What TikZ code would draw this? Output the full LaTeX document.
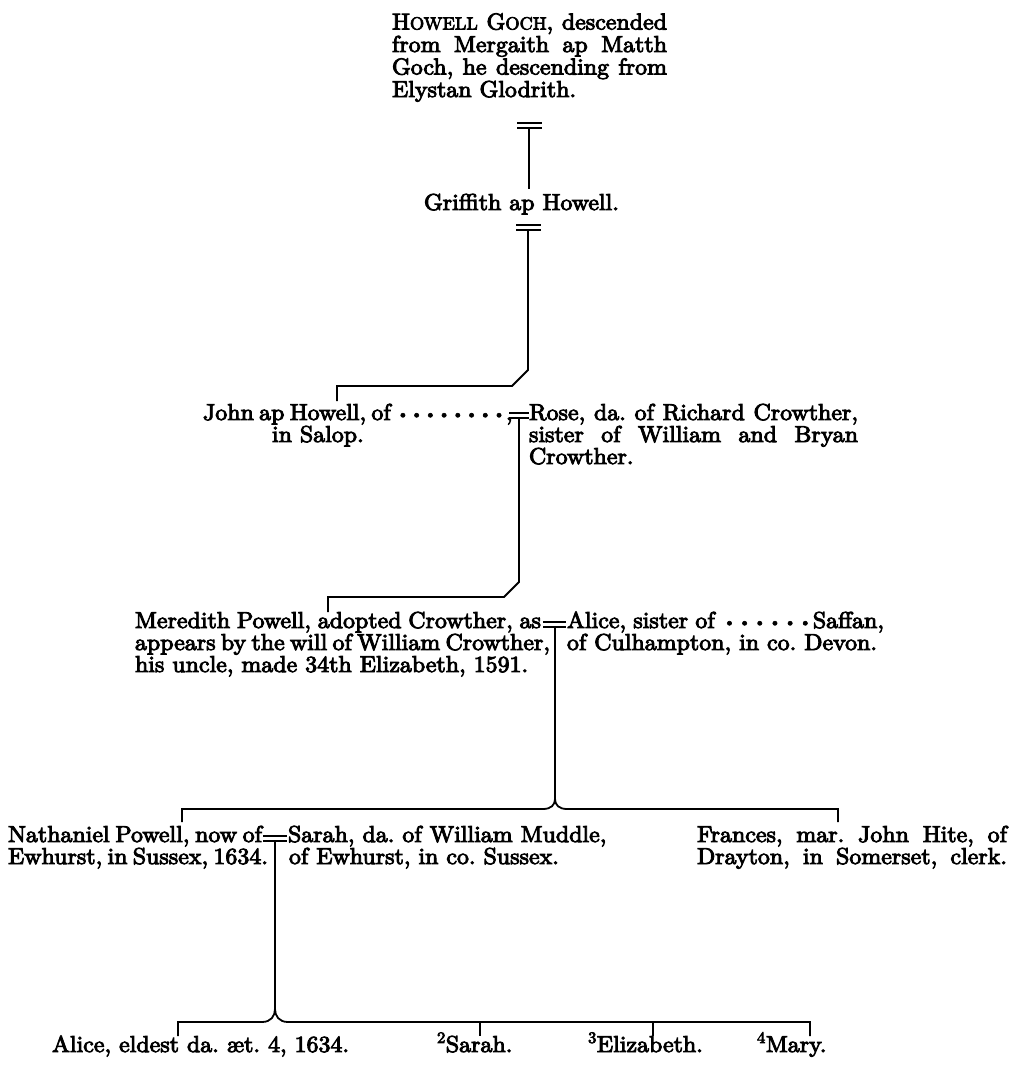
\documentclass[tikz,border=0pt]{standalone}
\usepackage{fontspec}
\newfontfamily\gfont{lmroman10-regular.otf}[FakeBold=4, FakeStretch=1.04]
\newcommand{\md}{\hskip 2pt plus 1.5pt minus 1pt\raisebox{1.4pt}{\fontsize{14.5}{14.5}\selectfont\textbullet}\hskip 2pt plus 1.5pt minus 1pt}
\newcommand{\smcap}[1]{{\fontsize{17.6}{17.6}\selectfont #1}}
\newcommand{\jline}[2]{\makebox[#1][s]{#2}}
\tikzset{
  ln/.style={anchor=base west, inner sep=0pt, outer sep=0pt},
  link/.style={line width=1.8pt, line cap=butt, line join=miter},
  wbar/.style={line width=1.5pt}
}
\begin{document}
\frenchspacing
\begin{tikzpicture}[x=1pt,y=-1pt,font=\gfont\fontsize{23}{22}\selectfont\frenchspacing]
\fill[white] (0,0) rectangle (1014,1065);
\useasboundingbox (0,0) rectangle (1014,1065);

% ---------- Howell Goch ----------
\node[ln] (h1) at (392,29.5) {\jline{275pt}{H\smcap{OWELL} G\smcap{OCH}, descended}};
\node[ln] (h2) at (392,52) {\jline{275pt}{from Mergaith ap Matth}};
\node[ln] (h3) at (392,74.5) {\jline{275pt}{Goch, he descending from}};
\node[ln] (h4) at (392,97) {Elystan Glodrith.};

\coordinate (w1a) at (517,123); \coordinate (w1b) at (542,123);
\coordinate (w1c) at (517,128); \coordinate (w1d) at (542,128);
\coordinate (w1) at (529,128); \coordinate (g-top) at (529,189);
\draw[wbar] (w1a) -- (w1b); \draw[wbar] (w1c) -- (w1d);
\draw[link] (w1) -- (g-top);

% ---------- Griffith ----------
\node[ln] (g) at (424,210) {Griffith ap Howell.};
\coordinate (w2a) at (516,225); \coordinate (w2b) at (541,225);
\coordinate (w2c) at (516,230); \coordinate (w2d) at (541,230);
\coordinate (w2) at (528,230);
\coordinate (k2a) at (528,370); \coordinate (k2b) at (512,386);
\coordinate (k2c) at (337,386); \coordinate (j-top) at (337,401);
\draw[wbar] (w2a) -- (w2b); \draw[wbar] (w2c) -- (w2d);
\draw[link] (w2) -- (k2a) -- (k2b) -- (k2c) -- (j-top);

% ---------- John ap Howell = Rose ----------
\node[ln] (j1) at (203,420) {\jline{305pt}{John ap Howell, of \md\md\md\md\md\md\md\md,}};
\node[ln] (j2) at (272,442) {in Salop.};
\node[ln] (r1) at (529,420) {\jline{329pt}{Rose, da. of Richard Crowther,}};
\node[ln] (r2) at (529,442) {\jline{329pt}{sister of William and Bryan}};
\node[ln] (r3) at (529,464) {Crowther.};

\coordinate (w3a) at (509,413); \coordinate (w3b) at (529,413);
\coordinate (w3c) at (509,418); \coordinate (w3d) at (529,418);
\coordinate (w3) at (519,418);
\coordinate (k3a) at (519,582); \coordinate (k3b) at (504,597);
\coordinate (k3c) at (328,597); \coordinate (m-top) at (328,612);
\draw[wbar] (w3a) -- (w3b); \draw[wbar] (w3c) -- (w3d);
\draw[link] (w3) -- (k3a) -- (k3b) -- (k3c) -- (m-top);

% ---------- Meredith Powell = Alice ----------
\node[ln] (m1) at (135,628) {\jline{406pt}{Meredith Powell, adopted Crowther, as}};
\node[ln] (m2) at (135,650) {\jline{407pt}{appears by the will of William Crowther,}};
\node[ln] (m3) at (135,672) {his uncle, made 34th Elizabeth, 1591.};
\node[ln] (a1) at (567,628) {\jline{317pt}{Alice, sister of \md\md\md\md\md\md Saffan,}};
\node[ln] (a2) at (567,650) {of Culhampton, in co. Devon.};

\coordinate (w4a) at (543,622); \coordinate (w4b) at (566,622);
\coordinate (w4c) at (543,627); \coordinate (w4d) at (566,627);
\coordinate (w4) at (555,627); \coordinate (b4) at (555,799);
\coordinate (b4l) at (543,809); \coordinate (b4r) at (567,809);
\coordinate (n-top) at (182,809); \coordinate (n-tick) at (182,822);
\coordinate (f-top) at (838,809); \coordinate (f-tick) at (838,822);
\draw[wbar] (w4a) -- (w4b); \draw[wbar] (w4c) -- (w4d);
\draw[link] (w4) -- (b4);
\draw[link] (n-tick) -- (n-top) -- (b4l) .. controls (551,809) and (555,805) .. (b4);
\draw[link] (b4) .. controls (555,805) and (559,809) .. (b4r) -- (f-top) -- (f-tick);

% ---------- Nathaniel = Sarah ; Frances ----------
\node[ln] (n1) at (8,842) {\jline{254pt}{Nathaniel Powell, now of}};
\node[ln] (n2) at (8,864) {\jline{254pt}{Ewhurst, in Sussex, 1634.}};
\node[ln] (s1) at (288,842) {Sarah, da. of William Muddle,};
\node[ln] (s2) at (289,864) {of Ewhurst, in co. Sussex.};
\node[ln] (f1) at (697,842) {\jline{310pt}{Frances, mar. John Hite, of}};
\node[ln] (f2) at (697,864) {\jline{310pt}{Drayton, in Somerset, clerk.}};

\coordinate (w5a) at (263,836); \coordinate (w5b) at (287,836);
\coordinate (w5c) at (263,841); \coordinate (w5d) at (287,841);
\coordinate (w5) at (275,841); \coordinate (b5) at (275,1009);
\coordinate (b5l) at (262,1022); \coordinate (b5r) at (288,1022);
\coordinate (c1-top) at (178,1022); \coordinate (c1-tick) at (178,1036);
\coordinate (c2-top) at (480,1022); \coordinate (c2-tick) at (480,1036);
\coordinate (c3-top) at (653,1022); \coordinate (c3-tick) at (653,1036);
\coordinate (c4-top) at (810,1022); \coordinate (c4-tick) at (810,1036);
\draw[wbar] (w5a) -- (w5b); \draw[wbar] (w5c) -- (w5d);
\draw[link] (w5) -- (b5);
\draw[link] (c1-tick) -- (c1-top) -- (b5l) .. controls (271,1022) and (275,1016) .. (b5);
\draw[link] (b5) .. controls (275,1016) and (279,1022) .. (b5r) -- (c4-top) -- (c4-tick);
\draw[link] (c2-top) -- (c2-tick);
\draw[link] (c3-top) -- (c3-tick);

% ---------- children ----------
\node[ln] (c1) at (52,1052) {Alice, eldest da. æt. 4, 1634.};
\node[ln] (c2) at (437,1052) {\textsuperscript{2}Sarah.};
\node[ln] (c3) at (588,1052) {\textsuperscript{3}Elizabeth.};
\node[ln] (c4) at (757,1052) {\textsuperscript{4}Mary.};
\end{tikzpicture}
\end{document}
